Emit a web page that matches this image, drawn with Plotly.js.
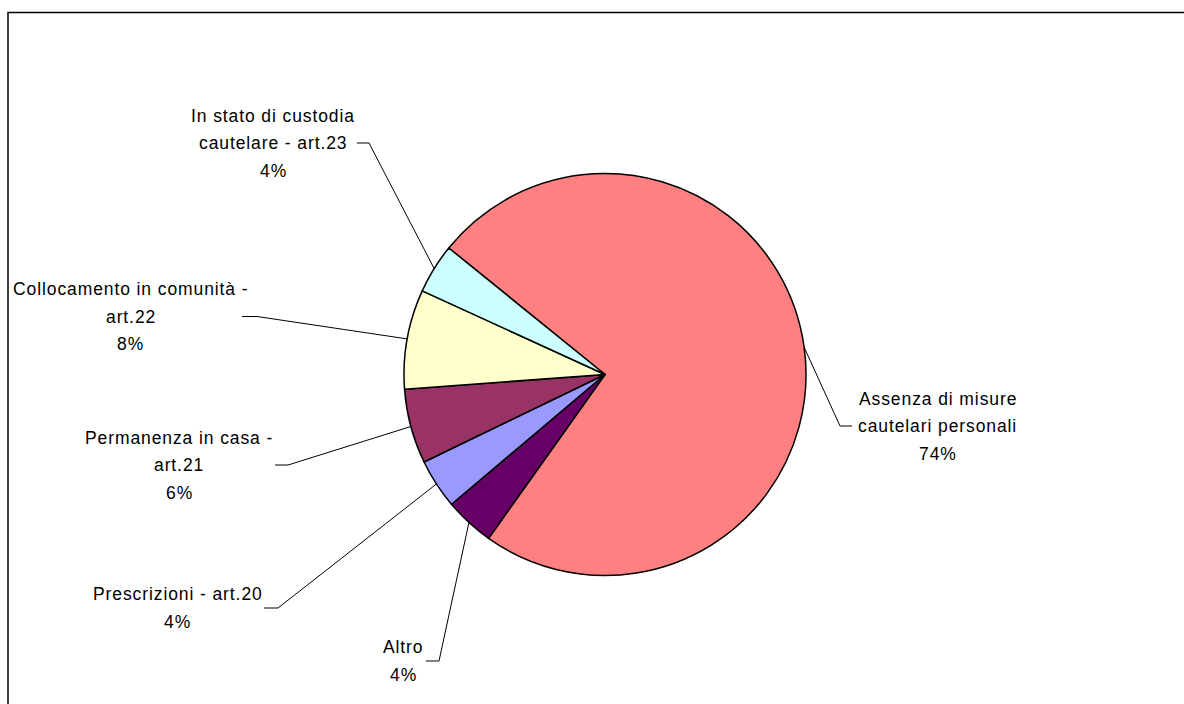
<!DOCTYPE html>
<html>
<head>
<meta charset="utf-8">
<script src="https://cdn.plot.ly/plotly-3.0.1.min.js"></script>
<style>
  html, body { margin: 0; padding: 0; background: #fff; }
  #chart { width: 1184px; height: 704px; }
  .annotation-text { letter-spacing: 0.9px; }
</style>
</head>
<body>
<div id="chart"></div>
<script>
// Category names (line breaks as printed beside the pie)
const labels = [
  'Assenza di misure<br>cautelari personali',
  'Altro',
  'Prescrizioni - art.20',
  'Permanenza in casa -<br>art.21',
  'Collocamento in comunità -<br>art.22',
  'In stato di custodia<br>cautelare - art.23'
];
// Share of each measure (%)
const values = [74, 4, 4, 6, 8, 4];
const colors = ['#FF8080', '#660066', '#9999FF', '#993366', '#FFFFCC', '#CCFFFF'];

// Label placement in pixels: block centre (lx, ly) and leader stub (sx -> ex) at height ly
const labelPos = [
  { lx: 937.5, ly: 426,   sx: 852, ex: 840 },
  { lx: 403,   ly: 661,   sx: 426, ex: 439 },
  { lx: 177.5, ly: 608,   sx: 264, ex: 278 },
  { lx: 179,   ly: 465,   sx: 275, ex: 288 },
  { lx: 130.5, ly: 316.5, sx: 242, ex: 257 },
  { lx: 273,   ly: 143,   sx: 357, ex: 369 }
];

const W = 1184, H = 704;
const CX = 605, CY = 374.5, R = 201;   // pie centre and radius (px)
const ROT = 309;                        // start angle, clockwise from 12 o'clock
const LINE_GAP = 27.5;
const FONT = { family: 'Liberation Sans, Arial, sans-serif', size: 17.5, color: '#000' };

const px = x => x / W;
const py = y => 1 - y / H;

const total = values.reduce((a, b) => a + b, 0);

const annotations = [];
const shapes = [];

// chart frame
shapes.push({
  type: 'rect', xref: 'paper', yref: 'paper',
  x0: px(8), x1: 1.2, y0: -0.2, y1: py(12.5),
  line: { color: '#000', width: 1.5 }, fillcolor: 'rgba(0,0,0,0)', layer: 'above'
});

let cum = 0;
values.forEach((v, i) => {
  const mid = (ROT + (cum + v / 2) / total * 360) * Math.PI / 180;
  cum += v;
  const ex = CX + R * Math.sin(mid);
  const ey = CY - R * Math.cos(mid);
  const p = labelPos[i];

  // leader line: horizontal stub beside the label, then straight to the slice edge
  shapes.push({
    type: 'path', xref: 'paper', yref: 'paper',
    path: `M ${px(p.sx)} ${py(p.ly)} L ${px(p.ex)} ${py(p.ly)} L ${px(ex)} ${py(ey)}`,
    line: { color: '#000', width: 1 }
  });

  const lines = labels[i].split('<br>');
  lines.push(Math.round(v / total * 100) + '%');
  lines.forEach((t, k) => {
    const y = p.ly + (k - (lines.length - 1) / 2) * LINE_GAP;
    annotations.push({
      xref: 'paper', yref: 'paper', x: px(p.lx), y: py(y),
      xanchor: 'center', yanchor: 'middle', showarrow: false,
      text: t, font: FONT
    });
  });
});

const trace = {
  type: 'pie',
  labels: labels,
  values: values,
  sort: false,
  direction: 'clockwise',
  rotation: ROT,
  textinfo: 'none',
  hoverinfo: 'none',
  marker: { colors: colors, line: { color: '#000', width: 1.5 } },
  domain: { x: [px(CX - R), px(CX + R)], y: [py(CY + R), py(CY - R)] }
};

const layout = {
  width: W, height: H,
  margin: { l: 0, r: 0, t: 0, b: 0 },
  paper_bgcolor: '#fff',
  showlegend: false,
  annotations: annotations,
  shapes: shapes
};

Plotly.newPlot('chart', [trace], layout, { displayModeBar: false, staticPlot: true });
</script>
</body>
</html>
